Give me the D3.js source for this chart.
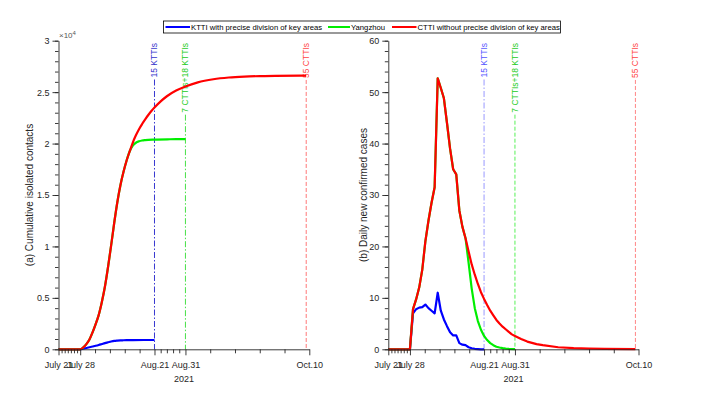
<!DOCTYPE html>
<html>
<head>
<meta charset="utf-8">
<script src="https://cdn.jsdelivr.net/npm/d3@7"></script>
<style>
  body { margin: 0; background: #fff; }
  svg { display: block; font-family: "Liberation Sans", Arial, sans-serif; }
</style>
</head>
<body>
<div id="chart"></div>
<script>
// days counted from July 21, 2021
const xTickDays = [0, 7, 31, 41, 81];
const xTickLabels = ["July 21", "July 28", "Aug.21", "Aug.31", "Oct.10"];
const xMinorDays = [1, 2, 3, 4, 5, 6, 11.8, 16.6, 21.4, 26.2, 33, 35, 37, 39, 49, 57, 65, 73];

const markerDays = [31, 41, 80];
const markerLabels = ["15 KTTIs", "7 CTTIs+18 KTTIs", "55 CTTIs"];

const legendLabels = ["KTTI with precise division of key areas", "Yangzhou", "CTTI without precise division of key areas"];

// (a) cumulative isolated contacts
const cumRedDays = [0, 7, 8, 9, 10, 11, 12, 13, 14, 15, 16, 17, 18, 19, 20, 21, 22, 23, 24, 25, 26, 27, 28, 29, 30, 31, 33, 35, 38, 41, 45, 50, 55, 60, 65, 70, 80];
const cumRed = [0, 0, 180, 500, 950, 1650, 2450, 3350, 4600, 6100, 8000, 10100, 12300, 14300, 15950, 17250, 18350, 19250, 20100, 20800, 21400, 21900, 22350, 22780, 23160, 23500, 24100, 24600, 25150, 25550, 25950, 26250, 26420, 26510, 26560, 26590, 26600];
const cumGreenDays = [0, 7, 8, 9, 10, 11, 12, 13, 14, 15, 16, 17, 18, 19, 20, 21, 22, 23, 24, 25, 26, 27, 28, 31, 36, 41];
const cumGreen = [0, 0, 180, 500, 950, 1650, 2450, 3350, 4600, 6100, 8000, 10100, 12300, 14300, 15950, 17250, 18350, 19250, 19800, 20080, 20220, 20300, 20340, 20390, 20420, 20430];
const cumBlueDays = [0, 7, 8, 9, 10, 11, 12, 13, 14, 15, 16, 17, 18, 19, 20, 21, 22, 24, 31];
const cumBlue = [0, 0, 60, 130, 200, 270, 340, 420, 510, 600, 680, 760, 820, 850, 870, 880, 890, 900, 905];

// (b) daily new confirmed cases
const dayRedDays = [0, 7, 8, 9, 10, 11, 12, 13, 14, 15, 16, 17, 18, 19, 20, 21, 22, 23, 24, 25, 26, 27, 28, 29, 30, 31, 32, 33, 34, 35, 36, 37, 38, 39, 40, 41, 43, 45, 48, 50, 55, 60, 65, 70, 80];
const dayRed = [0, 0, 7.8, 9.7, 12.0, 15.5, 21.0, 25.0, 28.5, 31.5, 52.7, 50.8, 48.8, 44.0, 39.0, 35.0, 34.0, 27.0, 23.8, 21.6, 19.0, 16.5, 14.5, 12.7, 11.1, 9.8, 8.6, 7.5, 6.6, 5.7, 5.0, 4.4, 3.9, 3.4, 2.9, 2.6, 2.0, 1.5, 1.0, 0.8, 0.4, 0.22, 0.12, 0.07, 0.02];
const dayGreenDays = [0, 7, 8, 9, 10, 11, 12, 13, 14, 15, 16, 17, 18, 19, 20, 21, 22, 23, 24, 25, 26, 27, 28, 29, 30, 31, 32, 33, 34, 35, 36, 37, 38, 39, 41];
const dayGreen = [0, 0, 7.8, 9.7, 12.0, 15.5, 21.0, 25.0, 28.5, 31.5, 52.7, 50.8, 48.8, 44.0, 39.0, 35.0, 34.0, 27.0, 23.8, 21.6, 16.8, 11.8, 8.0, 5.5, 3.8, 2.6, 1.8, 1.2, 0.8, 0.5, 0.35, 0.22, 0.14, 0.08, 0.03];
const dayBlueDays = [0, 7, 8, 9, 10, 11, 12, 13, 14, 15, 16, 17, 18, 19, 20, 21, 22, 23, 24, 25, 26, 27, 28, 29, 30, 31];
const dayBlue = [0, 0, 7.0, 7.8, 8.1, 8.2, 8.7, 8.0, 7.5, 7.0, 11.0, 7.5, 5.8, 4.5, 3.3, 2.7, 2.7, 1.2, 0.9, 0.8, 0.4, 0.2, 0.1, 0.05, 0, 0];

const W = 703, H = 396;
const axisColor = "#262626";
const seriesColors = ["#0000ff", "#00ee00", "#ff0000"];

const svg = d3.select("#chart").append("svg")
    .attr("width", W)
    .attr("height", H);

function zip(xs, ys) { return xs.map((d, i) => [d, ys[i]]); }

function drawPanel(cfg) {
    const x = d3.scaleLinear().domain([0, 81]).range([cfg.x0, cfg.x1]);
    const y = d3.scaleLinear().domain(cfg.yDomain).range([349.3, 40.7]);
    const g = svg.append("g");

    // vertical marker lines with rotated labels
    markerDays.forEach((d, i) => {
        const m = cfg.markers[i];
        const lab = g.append("text")
            .attr("transform", `translate(${x(d) + 3},43) rotate(-90)`)
            .attr("text-anchor", "end")
            .attr("font-size", "8.5px")
            .attr("fill", m.text)
            .text(markerLabels[i]);
        const len = lab.node().getComputedTextLength();
        g.append("line")
            .attr("x1", x(d)).attr("x2", x(d))
            .attr("y1", 43 + len + 2).attr("y2", y(0))
            .attr("stroke", m.color)
            .attr("stroke-width", 0.9)
            .attr("stroke-dasharray", m.dash);
    });

    // series: blue, green, red (red on top)
    const line = d3.line()
        .x(d => x(d[0]))
        .y(d => y(d[1]))
        .curve(cfg.curve);
    cfg.series.forEach((s, i) => {
        g.append("path")
            .datum(s)
            .attr("fill", "none")
            .attr("stroke", seriesColors[i])
            .attr("stroke-width", 2.2)
            .attr("stroke-linejoin", "round")
            .attr("d", line);
    });

    // y axis
    const yMinor = g.append("g")
        .attr("transform", `translate(${cfg.x0},0)`)
        .call(d3.axisLeft(y).tickValues(cfg.yMinor).tickSize(3.5).tickFormat("").tickSizeOuter(0));
    yMinor.select(".domain").remove();
    const yAx = g.append("g")
        .attr("transform", `translate(${cfg.x0},0)`)
        .call(d3.axisLeft(y).tickValues(cfg.yMajor).tickSize(6).tickPadding(3).tickFormat(cfg.yFormat).tickSizeOuter(0));
    yAx.selectAll("text").attr("font-size", "9px").attr("fill", axisColor);

    // x axis
    const xMinor = g.append("g")
        .attr("transform", `translate(0,349.3)`)
        .call(d3.axisBottom(x).tickValues(xMinorDays).tickSize(4).tickFormat("").tickSizeOuter(0));
    xMinor.select(".domain").remove();
    const xAx = g.append("g")
        .attr("transform", `translate(0,349.3)`)
        .call(d3.axisBottom(x).tickValues(xTickDays).tickSize(6).tickPadding(6.5)
            .tickFormat((d, i) => xTickLabels[i]).tickSizeOuter(0));
    xAx.selectAll("text").attr("font-size", "9px").attr("fill", axisColor);

    g.selectAll(".domain, .tick line").attr("stroke", axisColor).attr("stroke-width", 0.9);

    g.append("text")
        .attr("x", (cfg.x0 + cfg.x1) / 2)
        .attr("y", 381.5)
        .attr("text-anchor", "middle")
        .attr("font-size", "9px")
        .attr("fill", axisColor)
        .text("2021");

    g.append("text")
        .attr("transform", `translate(${cfg.labelX},195) rotate(-90)`)
        .attr("text-anchor", "middle")
        .attr("font-size", "10px")
        .attr("fill", axisColor)
        .text(cfg.yLabel);

    return g;
}

const gA = drawPanel({
    x0: 58.5, x1: 309.3,
    yDomain: [0, 30000],
    yMajor: d3.range(0, 30001, 5000),
    yMinor: d3.range(0, 30001, 1000),
    yFormat: d => d / 1e4,
    yLabel: "(a) Cumulative isolated contacts",
    labelX: 33,
    curve: d3.curveMonotoneX,
    series: [zip(cumBlueDays, cumBlue), zip(cumGreenDays, cumGreen), zip(cumRedDays, cumRed)],
    markers: [
        { color: "#2222cc", text: "#3333cc", dash: "6,2,1.5,2" },
        { color: "#33dd33", text: "#22cc22", dash: "6,2,1.5,2" },
        { color: "#ff6666", text: "#ff4444", dash: "4,2" }
    ]
});

// x10^4 exponent label
const expo = gA.append("text")
    .attr("x", 59)
    .attr("y", 38)
    .attr("font-size", "8px")
    .attr("fill", "#555");
expo.append("tspan").text("\u00d710");
expo.append("tspan").attr("font-size", "6px").attr("dy", -3).text("4");

drawPanel({
    x0: 388.3, x1: 638.5,
    yDomain: [0, 60],
    yMajor: d3.range(0, 61, 10),
    yMinor: d3.range(0, 61, 2),
    yFormat: d => d,
    yLabel: "(b) Daily new confirmed cases",
    labelX: 367,
    curve: d3.curveLinear,
    series: [zip(dayBlueDays, dayBlue), zip(dayGreenDays, dayGreen), zip(dayRedDays, dayRed)],
    markers: [
        { color: "#8c8cff", text: "#5555ff", dash: "6,2,1.5,2" },
        { color: "#44ee44", text: "#22cc22", dash: "4,2" },
        { color: "#ff7777", text: "#ff4444", dash: "4,2" }
    ]
});

// legend
const leg = svg.append("g");
leg.append("rect")
    .attr("x", 163.5).attr("y", 21)
    .attr("width", 397).attr("height", 12)
    .attr("fill", "#fff")
    .attr("stroke", "#000")
    .attr("stroke-width", 0.8);
const legLineX = [[165.5, 190], [328, 350], [392, 416.5]];
legendLabels.forEach((t, i) => {
    leg.append("line")
        .attr("x1", legLineX[i][0]).attr("x2", legLineX[i][1])
        .attr("y1", 27).attr("y2", 27)
        .attr("stroke", seriesColors[i])
        .attr("stroke-width", 2);
    leg.append("text")
        .attr("x", legLineX[i][1] + 1)
        .attr("y", 29.8)
        .attr("font-size", "7.7px")
        .attr("fill", "#000")
        .text(t);
});
</script>
</body>
</html>
